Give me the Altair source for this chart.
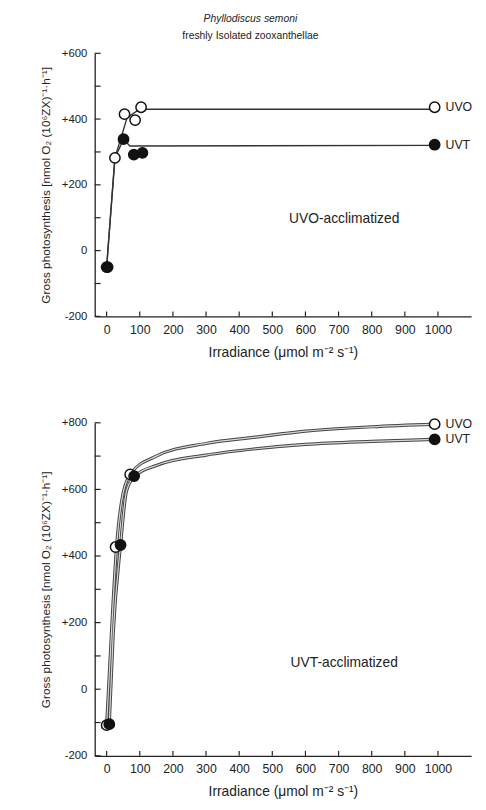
import altair as alt
import pandas as pd

FONT = "Liberation Sans"
INK = "#222222"

# ---- top panel (UVO-acclimatized) ----
top_uvo_x = [0, 25, 54, 86, 104, 990]
top_uvo_y = [-50, 282, 415, 397, 436, 436]
top_uvt_x = [3, 51, 82, 108, 990]
top_uvt_y = [-50, 339, 292, 297, 322]
top_uvo_fit_x = [0, 25, 62, 100, 990]
top_uvo_fit_y = [-50, 282, 405, 430, 430]
top_uvt_fit_x = [0, 25, 51, 70, 990]
top_uvt_fit_y = [-50, 282, 339, 318, 320]

# ---- bottom panel (UVT-acclimatized) ----
bot_uvo_x = [0, 27, 71, 990]
bot_uvo_y = [-108, 427, 645, 796]
bot_uvt_x = [8, 42, 83, 990]
bot_uvt_y = [-105, 433, 640, 750]
bot_uvo_fit_x = [0, 15, 30, 50, 75, 150, 300, 450, 600, 800, 990]
bot_uvo_fit_y = [-108, 180, 430, 590, 650, 700, 738, 757, 775, 788, 796]
bot_uvt_fit_x = [8, 20, 42, 60, 85, 150, 300, 450, 600, 800, 990]
bot_uvt_fit_y = [-105, 170, 433, 595, 640, 672, 703, 722, 735, 744, 750]

x_ticks = [0, 100, 200, 300, 400, 500, 600, 700, 800, 900, 1000]
top_y_ticks = [-200, -100, 0, 100, 200, 300, 400, 500, 600]
bot_y_ticks = [-200, -100, 0, 100, 200, 300, 400, 500, 600, 700, 800]

X_DOMAIN = [-36, 1100]
W = 382
H_TOP = 267
H_BOT = 338

label_expr = ("datum.value % 200 == 0 ? (datum.value > 0 ? '+' + datum.value : '' + datum.value) : ''")
ytitle = "Gross photosynthesis [nmol O\u2082 (10\u2076ZX)\u207b\u00b9\u00b7h\u207b\u00b9]"
xtitle = "Irradiance (\u03bcmol  m\u207b\u00b2 s\u207b\u00b9)"


def panel(uvo_x, uvo_y, uvt_x, uvt_y, fo_x, fo_y, ft_x, ft_y, ydom, yticks, h,
          note, note_x, note_y, smooth):
    xs = alt.Scale(domain=X_DOMAIN, nice=False, zero=False)
    ys = alt.Scale(domain=ydom, nice=False, zero=False)
    xa = alt.Axis(values=x_ticks, ticks=False, domain=True, domainColor=INK,
                  domainWidth=1.3, labelFont=FONT, labelFontSize=12.5, labelColor=INK,
                  labelOverlap=False, format="d", tickCount=11,
                  labelPadding=7, title=xtitle, titleFont=FONT, titleFontSize=14,
                  titleFontWeight="normal", titleColor=INK, titlePadding=10, grid=False)
    ya = alt.Axis(values=yticks, ticks=False, domain=True, domainColor=INK,
                  domainWidth=1.3, labelExpr=label_expr, labelFont=FONT, labelFontSize=11.5,
                  labelColor=INK, labelPadding=8, labelOverlap=False, title=ytitle,
                  titleFont=FONT, titleFontSize=12, titleFontWeight="normal",
                  titleColor=INK, titlePadding=9, grid=False)

    fit = pd.concat([
        pd.DataFrame({"x": fo_x, "y": fo_y, "s": "UVO"}),
        pd.DataFrame({"x": ft_x, "y": ft_y, "s": "UVT"}),
    ])
    pts = pd.concat([
        pd.DataFrame({"x": uvo_x, "y": uvo_y, "s": "UVO"}),
        pd.DataFrame({"x": uvt_x, "y": uvt_y, "s": "UVT"}),
    ])
    ends = pd.DataFrame({"x": [uvo_x[-1], uvt_x[-1]], "y": [uvo_y[-1], uvt_y[-1]],
                         "s": ["UVO", "UVT"]})

    bx = alt.X("x:Q", scale=xs, axis=xa)
    by = alt.Y("y:Q", scale=ys, axis=ya)

    layers = []
    if smooth:
        layers.append(alt.Chart(fit).mark_line(color="#444444", strokeWidth=3.2,
                                               interpolate="monotone")
                      .encode(x=bx, y=by, detail="s:N"))
        layers.append(alt.Chart(fit).mark_line(color="#d8d8d8", strokeWidth=1.2,
                                               interpolate="monotone")
                      .encode(x=bx, y=by, detail="s:N"))
    else:
        layers.append(alt.Chart(fit).mark_line(color="#333333", strokeWidth=1.4)
                      .encode(x=bx, y=by, detail="s:N"))

    layers.append(alt.Chart(pts).mark_point(shape="circle", filled=True, size=110,
                                            strokeWidth=1.5, stroke="#111111", opacity=1)
                  .encode(x=bx, y=by,
                          fill=alt.Fill("s:N", scale=alt.Scale(domain=["UVO", "UVT"],
                                                               range=["white", "#111111"]),
                                        legend=None),
                          order=alt.Order("s:N")))
    layers.append(alt.Chart(ends).mark_text(align="left", baseline="middle", dx=11,
                                            font=FONT, fontSize=12.5, color=INK)
                  .encode(x=bx, y=by, text="s:N"))
    layers.append(alt.Chart(pd.DataFrame({"x": [note_x], "y": [note_y], "t": [note]}))
                  .mark_text(align="center", baseline="middle", font=FONT, fontSize=14,
                             color=INK)
                  .encode(x=bx, y=by, text="t:N"))
    # inward ticks on the y axis
    layers.append(alt.Chart(pd.DataFrame({"y": yticks})).mark_rule(color=INK, strokeWidth=1.2)
                  .encode(y=by, x=alt.value(0), x2=alt.value(6)))
    # inward ticks on the x axis
    layers.append(alt.Chart(pd.DataFrame({"x": x_ticks})).mark_rule(color=INK, strokeWidth=1.2)
                  .encode(x=bx, y=alt.value(h), y2=alt.value(h - 5)))

    return alt.layer(*layers).properties(width=W, height=h)


top = panel(top_uvo_x, top_uvo_y, top_uvt_x, top_uvt_y,
            top_uvo_fit_x, top_uvo_fit_y, top_uvt_fit_x, top_uvt_fit_y,
            [-200, 600], top_y_ticks, H_TOP, "UVO-acclimatized", 717, 97, False).properties(
    title=alt.TitleParams(text="Phyllodiscus semoni", subtitle="freshly Isolated zooxanthellae",
                          font=FONT, fontSize=10.5, fontStyle="italic", fontWeight="normal",
                          color=INK, subtitleFont=FONT, subtitleFontSize=10.5,
                          subtitleColor=INK, subtitlePadding=7, anchor="middle", dx=-33,
                          offset=6))

bottom = panel(bot_uvo_x, bot_uvo_y, bot_uvt_x, bot_uvt_y,
               bot_uvo_fit_x, bot_uvo_fit_y, bot_uvt_fit_x, bot_uvt_fit_y,
               [-200, 800], bot_y_ticks, H_BOT, "UVT-acclimatized", 717, 79, True)

chart = (alt.vconcat(top, bottom, spacing=57)
         .configure_view(stroke=None)
         .configure_axisX(labelOverlap=False)
         .properties(background="white",
                     padding={"left": 32, "top": 0, "right": 5, "bottom": 5}))

chart.save("out.html", embed_options={"renderer": "svg", "actions": False})
